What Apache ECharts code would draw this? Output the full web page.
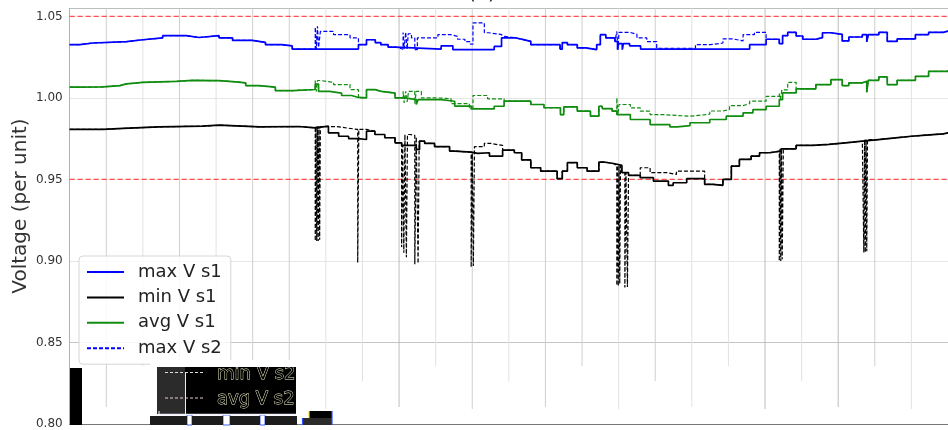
<!DOCTYPE html>
<html><head><meta charset="utf-8">
<script src="https://cdn.jsdelivr.net/npm/echarts@6/dist/echarts.min.js"></script>
<style>html,body{margin:0;padding:0;background:#fff;}#c{width:948px;height:430px;}</style>
</head><body><div id="c"></div>
<script>
// ---- data: [hour, voltage p.u.] step breakpoints ----
const maxV_s1 = [[0,1.0327],[0.28,1.0337],[0.64,1.0345],[1.55,1.0357],[2.0,1.0368],[2.54,1.0382],[3.18,1.0371],[3.54,1.0382],[4.08,1.0368],[4.45,1.0353],[4.99,1.0341],[5.35,1.0327],[5.8,1.0320],[6.08,1.0300],[7.89,1.0327],[8.11,1.0357],[8.35,1.0340],[8.5,1.0327],[8.7,1.0312],[8.9,1.0300],[10.15,1.0320],[10.47,1.0296],[11.6,1.0316],[11.8,1.0368],[12.2,1.0358],[12.4,1.0347],[12.6,1.0327],[13.4,1.0300],[13.46,1.0340],[13.6,1.0327],[13.87,1.0307],[14.1,1.0296],[14.4,1.0327],[14.5,1.0388],[14.65,1.0368],[14.9,1.0347],[14.97,1.0296],[15.0,1.0333],[15.1,1.0296],[15.13,1.0333],[15.3,1.0320],[15.6,1.0300],[18.58,1.0327],[19.03,1.0360],[19.39,1.0333],[19.48,1.0382],[19.62,1.0402],[19.85,1.0380],[20.03,1.0360],[20.39,1.0370],[20.57,1.0400],[20.8,1.0390],[21.11,1.0350],[21.29,1.0374],[21.66,1.0388],[21.78,1.0345],[21.82,1.0388],[22.11,1.0402],[22.34,1.0347],[22.61,1.0362],[23.11,1.0388],[23.47,1.0402],[23.87,1.0410],[24,1.0412]];
const minV_s1 = [[0,0.9807],[0.91,0.9813],[1.46,0.9823],[2.45,0.9827],[3.63,0.9833],[4.08,0.9823],[5.2,0.9825],[6.26,0.9817],[6.71,0.9827],[7.07,0.9786],[7.35,0.9765],[7.62,0.9751],[7.89,0.9745],[8.11,0.9796],[8.34,0.9776],[8.61,0.9756],[8.89,0.9725],[9.07,0.9709],[9.47,0.9684],[9.56,0.9735],[9.7,0.9721],[9.97,0.9701],[10.38,0.9674],[10.52,0.9668],[10.97,0.9660],[11.15,0.9664],[11.47,0.9643],[11.83,0.9680],[12.15,0.9664],[12.35,0.9620],[12.6,0.9572],[12.87,0.9551],[13.32,0.9505],[13.46,0.9551],[13.6,0.9603],[13.87,0.9572],[14.14,0.9551],[14.46,0.9607],[14.59,0.9598],[14.86,0.9586],[15.09,0.9542],[15.27,0.9525],[15.59,0.9511],[15.95,0.9490],[16.36,0.9464],[16.49,0.9480],[16.86,0.9505],[17.35,0.9470],[17.58,0.9464],[17.85,0.9500],[18.08,0.9582],[18.3,0.9623],[18.62,0.9643],[18.85,0.9664],[19.12,0.9674],[19.44,0.9688],[19.85,0.9709],[20.3,0.9715],[20.75,0.9725],[21.2,0.9735],[21.66,0.9745],[22.1,0.9755],[22.56,0.9765],[23.0,0.9772],[23.4,0.9780],[23.87,0.9786],[24,0.9788]];
const avgV_s1 = [[0,1.0066],[0.28,1.0068],[0.91,1.0076],[1.37,1.0086],[1.55,1.0096],[2.0,1.0102],[2.91,1.0108],[3.36,1.0106],[4.08,1.0099],[4.54,1.0093],[4.81,1.0076],[5.17,1.0066],[5.62,1.0045],[6.1,1.0052],[6.71,1.0085],[6.8,1.0040],[7.1,1.0030],[7.43,1.0015],[7.7,1.0003],[7.89,1.0000],[8.11,1.0051],[8.34,1.0040],[8.52,1.0030],[8.89,1.0000],[9.16,0.9990],[9.47,0.9960],[9.52,0.9990],[10.15,0.9980],[10.52,0.9950],[10.97,0.9933],[11.6,0.9949],[11.87,0.9980],[12.6,0.9960],[12.96,0.9940],[13.41,0.9898],[13.5,0.9945],[13.87,0.9919],[14.23,0.9888],[14.46,0.9949],[14.55,0.9935],[14.82,0.9919],[14.95,0.9898],[15.32,0.9868],[15.86,0.9837],[16.4,0.9823],[16.6,0.9830],[16.95,0.9848],[17.49,0.9868],[17.94,0.9888],[18.4,0.9909],[18.67,0.9929],[19.03,0.9949],[19.39,0.9990],[19.48,1.0031],[19.85,1.0056],[20.39,1.0082],[20.8,1.0113],[21.11,1.0076],[21.29,1.0093],[21.66,1.0102],[21.78,1.0035],[21.82,1.0108],[22.11,1.0129],[22.34,1.0082],[22.61,1.0108],[23.11,1.0133],[23.47,1.0163],[24,1.0170]];

// scenario 2 differs from scenario 1 only in these stretches
const maxV_s2_diff = [
  [[6.71,1.0435],[6.74,1.0300],[6.77,1.0440],[6.8,1.0310],[6.85,1.0408],[7.21,1.0388],[7.66,1.0368],[7.89,1.0327]],
  [[9.11,1.0402],[9.14,1.0300],[9.18,1.0402],[9.22,1.0300],[9.25,1.0394],[9.34,1.0368],[9.43,1.0296],[9.5,1.0368],[10.06,1.0388],[10.42,1.0378],[10.6,1.0360],[10.8,1.0345],[10.95,1.0330],[11.02,1.0460],[11.33,1.0400],[11.45,1.0390],[11.78,1.0378],[11.87,1.0368]],
  [[14.95,1.0408],[14.98,1.0296],[15.01,1.0402],[15.32,1.0390],[15.5,1.0368],[15.77,1.0345],[16.04,1.0305],[17.1,1.0327],[17.5,1.0337],[17.85,1.0362],[18.13,1.0350],[18.4,1.0388],[18.71,1.0402],[19.03,1.0360]]
];
const minV_s2_diff = [
  [[6.71,0.9123],[6.73,0.9827],[6.75,0.9123],[6.77,0.9827],[6.79,0.9123],[6.81,0.9827],[6.83,0.9130],[6.85,0.9824],[7.3,0.9815],[7.6,0.9807],[7.87,0.8990],[7.9,0.9807],[8.11,0.9796]],
  [[9.07,0.9085],[9.1,0.9709],[9.13,0.9050],[9.16,0.9776],[9.2,0.9023],[9.23,0.9776],[9.3,0.9770],[9.43,0.8980],[9.47,0.9760],[9.52,0.8985],[9.55,0.9735],[9.61,0.9735]],
  [[10.97,0.8962],[11.0,0.9660],[11.03,0.8970],[11.06,0.9701],[11.33,0.9721],[11.5,0.9709],[11.83,0.9680]],
  [[14.95,0.8850],[14.97,0.9586],[14.99,0.8847],[15.01,0.9586],[15.03,0.8860],[15.05,0.9586],[15.09,0.9542],[15.17,0.8838],[15.2,0.9542],[15.24,0.8840],[15.27,0.9525],[15.59,0.9572],[15.86,0.9542],[16.31,0.9531],[16.58,0.9551],[17.35,0.9470]],
  [[19.39,0.9000],[19.41,0.9688],[19.43,0.9000],[19.45,0.9688],[19.47,0.9010],[19.5,0.9688]],
  [[21.7,0.9052],[21.72,0.9745],[21.74,0.9052],[21.76,0.9745],[21.78,0.9060],[21.8,0.9745]]
];
const avgV_s2_diff = [
  [[6.71,1.0107],[6.74,1.0040],[6.77,1.0107],[6.85,1.0096],[7.21,1.0082],[7.66,1.0051],[7.89,1.0000]],
  [[9.11,1.0041],[9.14,0.9970],[9.18,1.0041],[9.22,0.9975],[9.26,1.0041],[9.43,0.9965],[9.47,1.0041],[9.61,1.0000],[10.06,0.9996],[10.42,0.9965],[10.92,0.9940],[11.02,1.0015],[11.42,0.9995],[11.87,0.9980]],
  [[14.95,1.0000],[14.98,0.9898],[15.01,0.9960],[15.32,0.9939],[15.59,0.9919],[15.86,0.9898],[16.2,0.9888],[16.95,0.9900],[17.49,0.9920],[17.85,0.9929],[18.03,0.9953],[18.4,0.9965],[18.58,0.9980],[19.03,1.0010],[19.39,1.0031],[19.42,0.9990],[19.46,1.0050],[19.62,1.0096],[19.85,1.0056]]
];
const limitLines = [0.95, 1.05];
const hourLines = [1,2,3,4,5,6,7,8,9,10,11,12,13,14,15,16,17,18,19,20,21,22,23];
const seriesNames = ['max V s1','min V s1','avg V s1','max V s2','min V s2','avg V s2'];

// ---- styling of the (partly broken) vertical grid ----
const vGridEnd = [0.8104,0.8355,0.8092,0.8263];
const vGridColor = ['#cfcfcf','#e2e2e2','#cfcfcf','#e2e2e2','#cfcfcf','#cfcfcf','#e2e2e2','#e2e2e2','#bcbcbc','#e2e2e2','#cfcfcf','#e2e2e2','#cfcfcf','#cfcfcf','#e2e2e2','#cfcfcf','#e2e2e2','#e2e2e2','#bcbcbc','#e2e2e2','#bcbcbc','#cfcfcf','#e2e2e2'];

function merge(base, segs) {
  const out = base.filter(p => !segs.some(s => p[0] >= s[0][0] && p[0] <= s[s.length - 1][0]));
  segs.forEach(s => s.forEach(p => out.push(p)));
  out.sort((a, b) => a[0] - b[0]);
  return out;
}
const maxV_s2 = merge(maxV_s1, maxV_s2_diff);
const minV_s2 = merge(minV_s1, minV_s2_diff);
const avgV_s2 = merge(avgV_s1, avgV_s2_diff);

const BLUE = '#0000ff', BLACK = '#000000', GREEN = '#108c10';
function lineSeries(name, data, color, dashed) {
  return {
    name, type: 'line', data, step: 'end', symbol: 'none', showSymbol: false,
    animation: false, clip: true, z: dashed ? 4 : 3,
    lineStyle: { color, width: dashed ? 1.2 : 1.7, type: dashed ? [4, 2] : 'solid' },
    itemStyle: { color }
  };
}

const chart = echarts.init(document.getElementById('c'), null, { renderer: 'canvas' });
const FONT = 'DejaVu Sans';
chart.setOption({
  animation: false,
  backgroundColor: '#fff',
  grid: { left: 69.7, top: 8.3, width: 883.3, height: 416.7, containLabel: false },
  xAxis: {
    type: 'value', min: 0, max: 24,
    axisLine: { show: true, lineStyle: { color: '#777', width: 1 } },
    axisTick: { show: false }, axisLabel: { show: false }, splitLine: { show: false }
  },
  yAxis: {
    type: 'value', min: 0.8, max: 1.055, interval: 0.05,
    axisLine: { show: true, lineStyle: { color: '#b0b0b0', width: 1 } },
    axisTick: { show: false },
    axisLabel: {
      margin: 7, fontSize: 12, color: '#333', fontFamily: FONT,
      formatter: v => Math.abs(v / 0.05 - Math.round(v / 0.05)) < 1e-6 ? v.toFixed(2) : ''
    },
    splitLine: { show: true, lineStyle: { width: 1, color: ['#777', '#c4c4c4', '#e6e6e6', '#e6e6e6', '#e6e6e6', '#e6e6e6', '#bdbdbd'] } }
  },
  legend: {
    data: seriesNames.slice(0, 4),
    orient: 'vertical', left: 79, top: 256,
    itemWidth: 37, itemHeight: 14, itemGap: 7.4,
    padding: [7, 9, 7, 7],
    itemStyle: { opacity: 0 },
    backgroundColor: 'rgba(255,255,255,0.85)', borderColor: '#d6d6d6', borderWidth: 1, borderRadius: 4,
    selectedMode: false,
    textStyle: { fontSize: 18, color: '#222', fontFamily: FONT, padding: [0, 0, 0, 9] }
  },
  series: [
    {
      type: 'custom', name: 'vgrid', z: 0, silent: true, animation: false,
      data: hourLines.map((h, i) => [h, i]),
      renderItem: (params, api) => {
        const i = params.dataIndex;
        const a = api.coord([api.value(0), 1.055]);
        const b = api.coord([api.value(0), vGridEnd[i % 4]]);
        return { type: 'line', shape: { x1: a[0], y1: a[1], x2: b[0], y2: b[1] }, style: { stroke: vGridColor[i], lineWidth: 1 } };
      }
    },
    {
      type: 'custom', name: 'limits', z: 2, silent: true, animation: false,
      data: limitLines.map(v => [v]),
      renderItem: (params, api) => {
        const a = api.coord([0, api.value(0)]);
        const b = api.coord([24, api.value(0)]);
        return { type: 'line', shape: { x1: a[0], y1: a[1], x2: b[0], y2: b[1] }, style: { stroke: 'rgba(255,50,50,0.85)', lineWidth: 1.2, lineDash: [5, 3] } };
      }
    },
    lineSeries(seriesNames[0], maxV_s1, BLUE, false),
    lineSeries(seriesNames[1], minV_s1, BLACK, false),
    lineSeries(seriesNames[2], avgV_s1, GREEN, false),
    lineSeries(seriesNames[3], maxV_s2, BLUE, true),
    lineSeries(seriesNames[4], minV_s2, BLACK, true),
    lineSeries(seriesNames[5], avgV_s2, GREEN, true)
  ],
  graphic: [
    { type: 'text', left: 468, top: -16, z: 10, style: { text: '(a)', fontSize: 20, fontFamily: FONT, fill: '#222' } },
    { type: 'text', x: 20.5, y: 206, rotation: Math.PI / 2, z: 10,
      style: { text: 'Voltage (per unit)', fontSize: 20, fontFamily: FONT, fill: '#333', align: 'center', verticalAlign: 'middle' } },
    // rendering artefacts at the bottom of the original figure
    { type: 'rect', z: 20, shape: { x: 70, y: 368, width: 12, height: 57 }, style: { fill: '#000' } },
    { type: 'rect', z: 20, shape: { x: 157, y: 367, width: 139, height: 47 }, style: { fill: '#000' } },
    { type: 'rect', z: 21, shape: { x: 157, y: 367, width: 28, height: 47 }, style: { fill: '#2b2b2b' } },
    { type: 'line', z: 22, shape: { x1: 185.5, y1: 372, x2: 185.5, y2: 414 }, style: { stroke: '#f4f4b0', lineWidth: 1 } },
    { type: 'line', z: 22, shape: { x1: 165, y1: 372.5, x2: 203, y2: 372.5 }, style: { stroke: '#dddddd', lineWidth: 1, lineDash: [3, 2] } },
    { type: 'line', z: 22, shape: { x1: 165, y1: 398, x2: 203, y2: 398 }, style: { stroke: '#f0c8d8', lineWidth: 1.2, lineDash: [3, 2] } },
    { type: 'text', z: 22, x: 217, y: 365, style: { text: 'min V s2', fontSize: 18, fontFamily: FONT, fill: '#000', stroke: '#fafad0', lineWidth: 0.8, verticalAlign: 'top' } },
    { type: 'text', z: 22, x: 217, y: 390, style: { text: 'avg V s2', fontSize: 18, fontFamily: FONT, fill: '#000', stroke: '#fafad0', lineWidth: 0.8, verticalAlign: 'top' } },
    { type: 'rect', z: 23, shape: { x: 150, y: 360, width: 160, height: 7 }, style: { fill: '#fff' } },
    { type: 'line', z: 22, shape: { x1: 158, y1: 414.5, x2: 296, y2: 414.5 }, style: { stroke: '#f0f0ff', lineWidth: 1.5 } },
    { type: 'line', z: 22, shape: { x1: 159, y1: 411, x2: 159, y2: 415 }, style: { stroke: '#f0f0ff', lineWidth: 1 } },
    { type: 'rect', z: 20, shape: { x: 150, y: 416, width: 37, height: 9 }, style: { fill: '#1c1c1c' } },
    { type: 'rect', z: 20, shape: { x: 192, y: 416, width: 31, height: 9 }, style: { fill: '#1c1c1c' } },
    { type: 'rect', z: 20, shape: { x: 230, y: 416, width: 30, height: 9 }, style: { fill: '#1c1c1c' } },
    { type: 'rect', z: 20, shape: { x: 265, y: 416, width: 32, height: 9 }, style: { fill: '#1c1c1c' } },
    { type: 'rect', z: 19, shape: { x: 187, y: 415, width: 5, height: 10 }, style: { fill: '#ffffff', stroke: '#4060ff', lineWidth: 1 } },
    { type: 'rect', z: 19, shape: { x: 223, y: 415, width: 7, height: 10 }, style: { fill: '#ffffff', stroke: '#4060ff', lineWidth: 1 } },
    { type: 'rect', z: 19, shape: { x: 260, y: 415, width: 5, height: 10 }, style: { fill: '#ffffff', stroke: '#4060ff', lineWidth: 1 } },
    { type: 'rect', z: 20, shape: { x: 309, y: 411, width: 23, height: 7 }, style: { fill: '#000' } },
    { type: 'rect', z: 20, shape: { x: 302, y: 418, width: 30, height: 7 }, style: { fill: '#2b2b2b' } },
    { type: 'line', z: 21, shape: { x1: 309, y1: 411, x2: 309, y2: 418 }, style: { stroke: '#f0e030', lineWidth: 1.2 } },
    { type: 'line', z: 21, shape: { x1: 302.5, y1: 418, x2: 302.5, y2: 425 }, style: { stroke: '#3050ff', lineWidth: 1.2 } },
    { type: 'line', z: 21, shape: { x1: 332, y1: 411, x2: 332, y2: 425 }, style: { stroke: '#3050ff', lineWidth: 1.2 } }
  ]
});
</script>
</body></html>
